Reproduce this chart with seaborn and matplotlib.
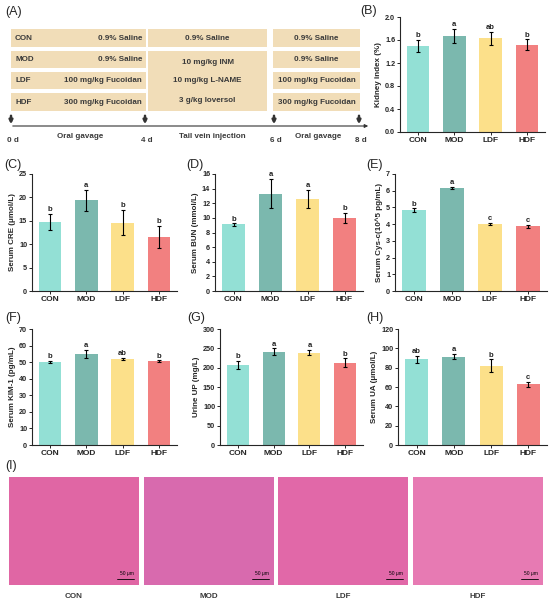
import numpy as np
import pandas as pd
import matplotlib
matplotlib.use("Agg")
import matplotlib.pyplot as plt
import seaborn as sns
from matplotlib.patches import Rectangle

# ---------------- data ----------------
groups = ["CON", "MOD", "LDF", "HDF"]
colors = ["#93E0D5", "#7BB8AE", "#FCE08A", "#F28080"]

kidney_mean = [1.50, 1.67, 1.63, 1.52]
kidney_sd = [0.10, 0.13, 0.11, 0.09]
kidney_sig = ["b", "a", "ab", "b"]

cre_mean = [14.8, 19.4, 14.6, 11.5]
cre_sd = [1.7, 2.2, 2.7, 2.4]
cre_sig = ["b", "a", "b", "b"]

bun_mean = [9.1, 13.3, 12.6, 10.0]
bun_sd = [0.15, 2.0, 1.2, 0.7]
bun_sig = ["b", "a", "a", "b"]

cys_mean = [4.85, 6.18, 4.03, 3.88]
cys_sd = [0.10, 0.07, 0.06, 0.09]
cys_sig = ["b", "a", "c", "c"]

kim_mean = [50.2, 54.8, 52.0, 50.5]
kim_sd = [0.6, 2.6, 0.8, 0.5]
kim_sig = ["b", "a", "ab", "b"]

up_mean = [207, 241, 239, 213]
up_sd = [11, 9, 7, 11]
up_sig = ["b", "a", "a", "b"]

ua_mean = [88.5, 91.5, 82.0, 63.0]
ua_sd = [3.5, 3.0, 6.5, 2.5]
ua_sig = ["ab", "a", "b", "c"]

# table text
tbl_groups = ["CON", "MOD", "LDF", "HDF"]
tbl_phase1 = ["0.9% Saline", "0.9% Saline", "100 mg/kg Fucoidan", "300 mg/kg Fucoidan"]
tbl_phase2 = ["0.9% Saline", "10 mg/kg INM", "10 mg/kg L-NAME", "3 g/kg Ioversol"]
tbl_phase3 = ["0.9% Saline", "0.9% Saline", "100 mg/kg Fucoidan", "300 mg/kg Fucoidan"]
time_labels = ["0 d", "4 d", "6 d", "8 d"]
phase_labels = ["Oral gavage", "Tail vein injection", "Oral gavage"]

# ---------------- figure ----------------
W, H = 550, 604
sns.set_style("ticks")
plt.rcParams["font.family"] = ["Liberation Sans", "DejaVu Sans"]
fig = plt.figure(figsize=(W / 100, H / 100), dpi=100)
TFS = 5.8


def rect(x0, y0, x1, y1):
    return [x0 / W, 1 - y1 / H, (x1 - x0) / W, (y1 - y0) / H]


def panel_label(x, y, s):
    fig.text(x / W, 1 - y / H, s, fontsize=9, ha="left", va="center")


def bar_panel(box, means, sds, sigs, ylabel, ymax, ystep, fmt="{:.0f}"):
    ax = fig.add_axes(rect(*box))
    df = pd.DataFrame({"group": groups, "value": means})
    sns.barplot(data=df, x="group", y="value", hue="group", palette=colors,
                order=groups, hue_order=groups, width=0.62, legend=False,
                errorbar=None, ax=ax, edgecolor="none", saturation=1)
    ax.errorbar(x=np.arange(len(groups)), y=means, yerr=sds, fmt="none",
                ecolor="black", elinewidth=0.8, capsize=1.6, capthick=0.8)
    for i, (m, s, t) in enumerate(zip(means, sds, sigs)):
        ax.text(i, m + s + ymax * 0.006, t, ha="center", va="bottom",
                fontsize=5.5, fontweight="bold", color="#222222")
    ax.set_ylim(0, ymax)
    ax.set_xlim(-0.5, 3.5)
    ticks = np.arange(0, ymax + ystep / 2, ystep)
    ax.set_yticks(ticks)
    ax.set_yticklabels([fmt.format(t) for t in ticks])
    ax.set_xlabel("")
    ax.set_ylabel(ylabel, fontsize=5.8, fontweight="bold", labelpad=2)
    ax.tick_params(axis="both", labelsize=5.2, length=2, width=0.7, pad=1.5)
    for lab in ax.get_xticklabels() + ax.get_yticklabels():
        lab.set_fontweight("bold")
    ax.tick_params(axis="x", labelsize=6)
    for sp in ["left", "bottom"]:
        ax.spines[sp].set_linewidth(0.8)
    sns.despine(ax=ax)
    return ax


# ---------------- panel A ----------------
panel_label(5, 12, "(A)")
axA = fig.add_axes(rect(0, 20, 372, 150))
axA.set_xlim(0, 372)
axA.set_ylim(150, 20)
axA.axis("off")
beige = "#F1DDB8"
txt_c = "#3A3A3A"
rows = [(29, 47), (51, 68), (72, 89), (93, 111)]
for (y0, y1), g, p1, p3 in zip(rows, tbl_groups, tbl_phase1, tbl_phase3):
    axA.add_patch(Rectangle((11, y0), 135, y1 - y0, color=beige, lw=0))
    axA.add_patch(Rectangle((273, y0), 87, y1 - y0, color=beige, lw=0))
    yc = (y0 + y1) / 2
    axA.text(15, yc, g, ha="left", va="center", fontsize=TFS, fontweight="bold", color=txt_c)
    axA.text(142, yc, p1, ha="right", va="center", fontsize=TFS, fontweight="bold", color=txt_c)
    axA.text(316.5, yc, p3, ha="center", va="center", fontsize=TFS, fontweight="bold", color=txt_c)
axA.add_patch(Rectangle((148, 29), 119, 18, color=beige, lw=0))
axA.add_patch(Rectangle((148, 51), 119, 60, color=beige, lw=0))
for yc, s in zip([38, 62, 81, 100], tbl_phase2):
    axA.text(207.5, yc, s, ha="center", va="center", fontsize=TFS, fontweight="bold", color=txt_c)

# timeline
axA.annotate("", xy=(371, 126), xytext=(10, 126),
             arrowprops=dict(arrowstyle="-|>", lw=0.8, color="#333333", mutation_scale=5))
tick_x = [11, 145, 274, 359]
for xx, lab in zip(tick_x, time_labels):
    axA.annotate("", xy=(xx, 127), xytext=(xx, 113),
                 arrowprops=dict(arrowstyle="-|>", lw=1.8, color="#333333", mutation_scale=5))
    axA.text(xx + 2, 141, lab, ha="center", va="center", fontsize=TFS, fontweight="bold", color=txt_c)
for xc, lab in zip([80, 212, 318], phase_labels):
    axA.text(xc, 137, lab, ha="center", va="center", fontsize=TFS, fontweight="bold", color=txt_c)

# ---------------- bar panels ----------------
panel_label(360, 11, "(B)")
bar_panel((400, 17, 545, 132), kidney_mean, kidney_sd, kidney_sig,
          "Kidney index (%)", 2.0, 0.4, fmt="{:.1f}")

panel_label(4, 165, "(C)")
bar_panel((32, 174, 177, 291), cre_mean, cre_sd, cre_sig,
          "Serum CRE (μmol/L)", 25, 5)

panel_label(186, 165, "(D)")
bar_panel((215, 174, 363, 291), bun_mean, bun_sd, bun_sig,
          "Serum BUN (mmol/L)", 16, 2)

panel_label(366, 165, "(E)")
bar_panel((395, 174, 547, 291), cys_mean, cys_sd, cys_sig,
          "Serum Cys-c(10^5 pg/mL)", 7, 1)

panel_label(5, 318, "(F)")
bar_panel((32, 329, 177, 445), kim_mean, kim_sd, kim_sig,
          "Serum KIM-1 (pg/mL)", 70, 10)

panel_label(187, 318, "(G)")
bar_panel((220, 329, 363, 445), up_mean, up_sd, up_sig,
          "Urine UP (mg/L)", 300, 50)

panel_label(366, 318, "(H)")
bar_panel((398, 329, 547, 445), ua_mean, ua_sd, ua_sig,
          "Serum UA (μmol/L)", 120, 20)

# ---------------- panel I ----------------
panel_label(5, 466, "(I)")
img_x = [(9, 139), (144, 274), (278, 408), (413, 543)]
img_col = ["#E066A4", "#D86AAE", "#E168A8", "#E77AB3"]
for (x0, x1), g, c in zip(img_x, groups, img_col):
    ax = fig.add_axes(rect(x0, 477, x1, 585))
    ax.set_facecolor(c)
    ax.set_xticks([])
    ax.set_yticks([])
    for sp in ax.spines.values():
        sp.set_visible(False)
    ax.text(0.96, 0.08, "50 μm", transform=ax.transAxes, ha="right",
            va="bottom", fontsize=3.5, color="black")
    ax.plot([0.83, 0.96], [0.06, 0.06], transform=ax.transAxes, color="black", lw=0.6)
    fig.text(((x0 + x1) / 2) / W, 1 - 597 / H, g, ha="center", va="center",
             fontsize=TFS, fontweight="bold", color=txt_c)

fig.savefig("out.png", dpi=100)
